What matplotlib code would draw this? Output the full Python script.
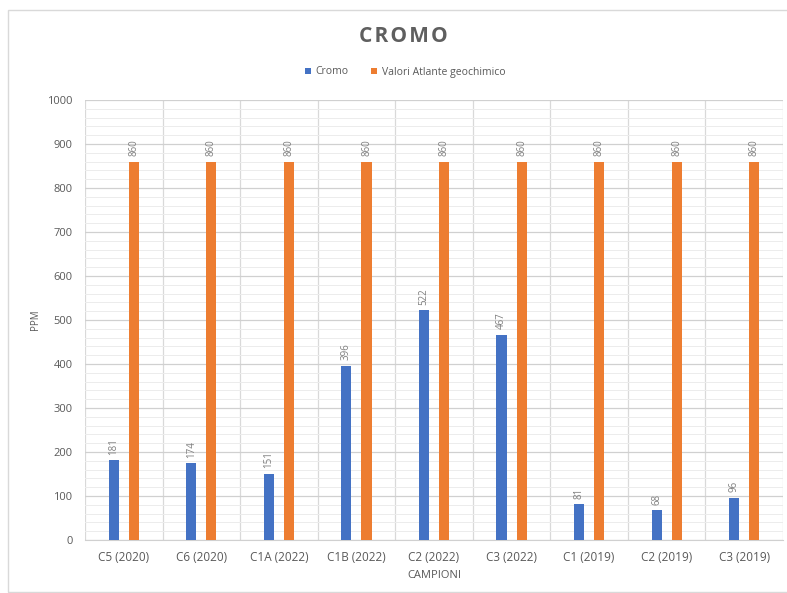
import matplotlib.pyplot as plt
import numpy as np
from matplotlib.patches import Rectangle
from matplotlib.ticker import MultipleLocator

categories = ["C5 (2020)", "C6 (2020)", "C1A (2022)", "C1B (2022)", "C2 (2022)",
              "C3 (2022)", "C1 (2019)", "C2 (2019)", "C3 (2019)"]
cromo = [181, 174, 151, 396, 522, 467, 81, 68, 96]
atlante = [860, 860, 860, 860, 860, 860, 860, 860, 860]

blue = "#4472C4"
orange = "#ED7D31"
text_grey = "#595959"

plt.rcParams['font.family'] = ['Open Sans', 'DejaVu Sans']

fig = plt.figure(figsize=(7.87, 5.93), dpi=100)
W, H = 787, 593
ax = fig.add_axes([85 / W, 1 - 540 / H, (783 - 85) / W, (540 - 100) / H])

# chart border
fig.patches.append(Rectangle((8 / W, 1 - 592 / H), 1.0, (592 - 10) / H,
                             transform=fig.transFigure, fill=False,
                             edgecolor="#d9d9d9", linewidth=1.0))

x = np.arange(len(categories))
w = 0.13
off = 0.13
b1 = ax.bar(x - off, cromo, w, color=blue, label="Cromo", zorder=3)
b2 = ax.bar(x + off, atlante, w, color=orange, label="Valori Atlante geochimico", zorder=3)

for bars, vals in ((b1, cromo), (b2, atlante)):
    for rect, v in zip(bars, vals):
        ax.text(rect.get_x() + rect.get_width() / 2, v + 12, str(v),
                rotation=90, ha="center", va="bottom", fontsize=7,
                color="#7f7f7f", zorder=4)

ax.set_xlim(-0.5, len(categories) - 0.5)
ax.set_ylim(0, 1000)
ax.yaxis.set_major_locator(MultipleLocator(100))
ax.yaxis.set_minor_locator(MultipleLocator(20))
ax.grid(axis="y", which="major", color="#d0d0d0", linewidth=0.9, zorder=0)
ax.grid(axis="y", which="minor", color="#ececec", linewidth=0.7, zorder=0)
for b in np.arange(-0.5, len(categories) + 0.5, 1.0):
    ax.axvline(b, color="#d9d9d9", linewidth=0.9, zorder=1)

ax.set_xticks(x)
ax.set_xticklabels(categories, fontsize=8.5, color=text_grey)
ax.tick_params(axis="x", length=0, pad=8)
ax.tick_params(axis="y", which="both", length=0, labelsize=8,
               labelcolor=text_grey, pad=9)
for s in ax.spines.values():
    s.set_visible(False)
ax.spines["bottom"].set_visible(True)
ax.spines["bottom"].set_color("#d0d0d0")

ax.set_xlabel("CAMPIONI", fontsize=8, color=text_grey, labelpad=4)
ax.set_ylabel("PPM", fontsize=7, color=text_grey, labelpad=4)

fig.text(403 / W, 1 - 37 / H, "\u200a".join("CROMO"), ha="center", va="center",
         fontsize=15, fontweight="bold", color="#5f5f5f")
leg = fig.legend(handles=[b1, b2], loc="center", bbox_to_anchor=(405 / W, 1 - 72 / H),
                 ncol=2, frameon=False, fontsize=7.5, handlelength=0.6,
                 handleheight=0.6, handletextpad=0.4, columnspacing=2.2)
for t in leg.get_texts():
    t.set_color(text_grey)

fig.savefig("out.png", dpi=100, facecolor="white")
